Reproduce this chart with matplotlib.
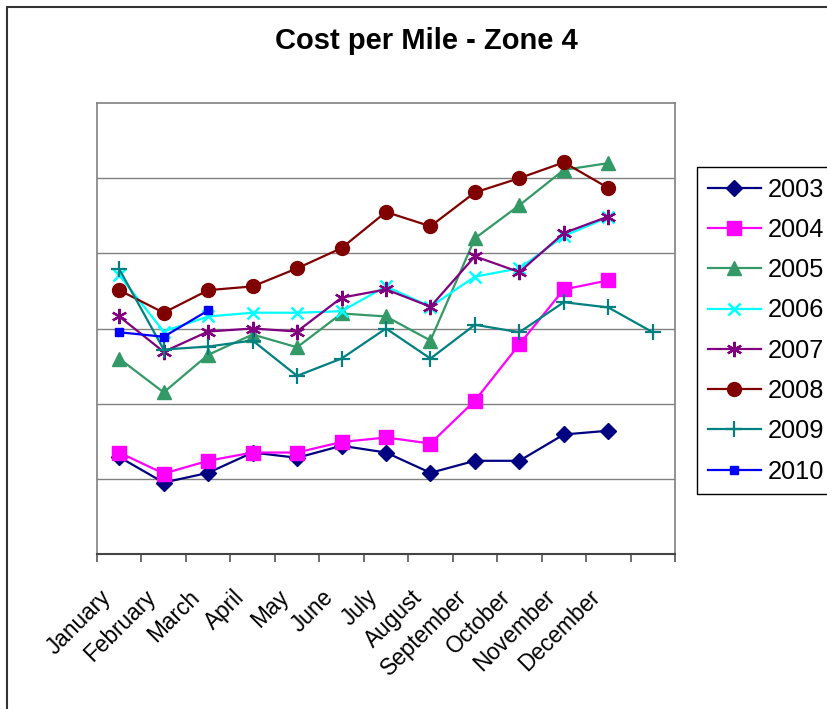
import numpy as np
import matplotlib
matplotlib.use("Agg")
import matplotlib.pyplot as plt
import matplotlib.transforms as mtransforms
from matplotlib.patches import Rectangle

plt.rcParams['font.family'] = ['Liberation Sans', 'DejaVu Sans']

# month labels (13th slot on the axis has no label)
months = ["January", "February", "March", "April", "May", "June", "July",
          "August", "September", "October", "November", "December"]

# cost per mile by year (units)
y2003 = [1.29, 0.95, 1.08, 1.35, 1.28, 1.44, 1.35, 1.08, 1.24, 1.24, 1.59, 1.64]
y2004 = [1.35, 1.07, 1.24, 1.35, 1.35, 1.49, 1.55, 1.47, 2.04, 2.79, 3.52, 3.64]
y2005 = [2.60, 2.15, 2.65, 2.92, 2.75, 3.20, 3.16, 2.84, 4.20, 4.64, 5.11, 5.20]
y2006 = [3.71, 2.96, 3.16, 3.21, 3.21, 3.23, 3.56, 3.29, 3.69, 3.80, 4.23, 4.48]
y2007 = [3.16, 2.69, 2.96, 3.00, 2.96, 3.41, 3.52, 3.29, 3.96, 3.75, 4.27, 4.49]
y2008 = [3.51, 3.21, 3.51, 3.56, 3.80, 4.07, 4.55, 4.36, 4.81, 5.00, 5.21, 4.87]
y2009 = [3.79, 2.72, 2.76, 2.84, 2.37, 2.60, 3.00, 2.60, 3.05, 2.95, 3.35, 3.28, 2.95]
y2010 = [2.95, 2.89, 3.24]

series = [
    ("2003", y2003, "#000080", dict(marker="D", ms=8)),
    ("2004", y2004, "#FF00FF", dict(marker="s", ms=9.5)),
    ("2005", y2005, "#339966", dict(marker="^", ms=10)),
    ("2006", y2006, "#00FFFF", dict(marker="x", ms=9, mew=1.8)),
    ("2007", y2007, "#800080", dict(marker=(6, 2, 0), ms=11, mew=1.6)),
    ("2008", y2008, "#800000", dict(marker="o", ms=10)),
    ("2009", y2009, "#008080", dict(marker="+", ms=11, mew=1.6)),
    ("2010", y2010, "#0000FF", dict(marker="s", ms=5.5)),
]

fig = plt.figure(figsize=(8.28, 7.09), dpi=100)
# outer chart border
fig.patches.append(Rectangle((7 / 828, -0.05), 1.0, 1 - 7 / 709 + 0.05,
                             transform=fig.transFigure, fill=False,
                             edgecolor="#333333", linewidth=1.5))

ax = fig.add_axes([97 / 828, 1 - 554 / 709, 578 / 828, 451 / 709])

for name, vals, color, style in series:
    x = np.arange(len(vals)) + 0.5
    ax.plot(x, vals, color=color, lw=1.6, label=name,
            mec=color, mfc=color, **style)

ax.set_xlim(0, 13)
ax.set_ylim(0, 6)
ax.set_yticks([1, 2, 3, 4, 5])
ax.yaxis.grid(True, color="#808080", lw=1)
ax.tick_params(axis="y", left=False, labelleft=False)
ax.set_xticks(np.arange(0, 14))
ax.set_xticklabels([])
ax.tick_params(axis="x", which="major", length=6, width=1.2, color="#555555")
ax.set_xticks(np.arange(12) + 0.5, minor=True)
ax.set_xticklabels(months, minor=True, rotation=45, ha="right",
                   rotation_mode="anchor", fontsize=16.3)
ax.tick_params(axis="x", which="minor", length=0, pad=14)
shift = mtransforms.ScaledTranslation(-0.20, -0.12, fig.dpi_scale_trans)
for lbl in ax.get_xticklabels(minor=True):
    lbl.set_transform(lbl.get_transform() + shift)

for side in ["left", "top", "right"]:
    ax.spines[side].set_color("#808080")
    ax.spines[side].set_linewidth(1.2)
ax.spines["bottom"].set_color("#444444")
ax.spines["bottom"].set_linewidth(1.5)

fig.text(426 / 828, 1 - 41 / 709, "Cost per Mile - Zone 4", ha="center",
         va="center", fontsize=21, fontweight="bold")

leg = fig.legend(loc="upper left", bbox_to_anchor=(697 / 828, 1 - 167 / 709),
                 fontsize=18.3, frameon=True, fancybox=False, framealpha=1,
                 edgecolor="black", handlelength=2.1, labelspacing=0.64,
                 borderpad=0.42, handletextpad=0.25, borderaxespad=0)
leg.get_frame().set_linewidth(1.0)

fig.savefig("out.png", dpi=100)
